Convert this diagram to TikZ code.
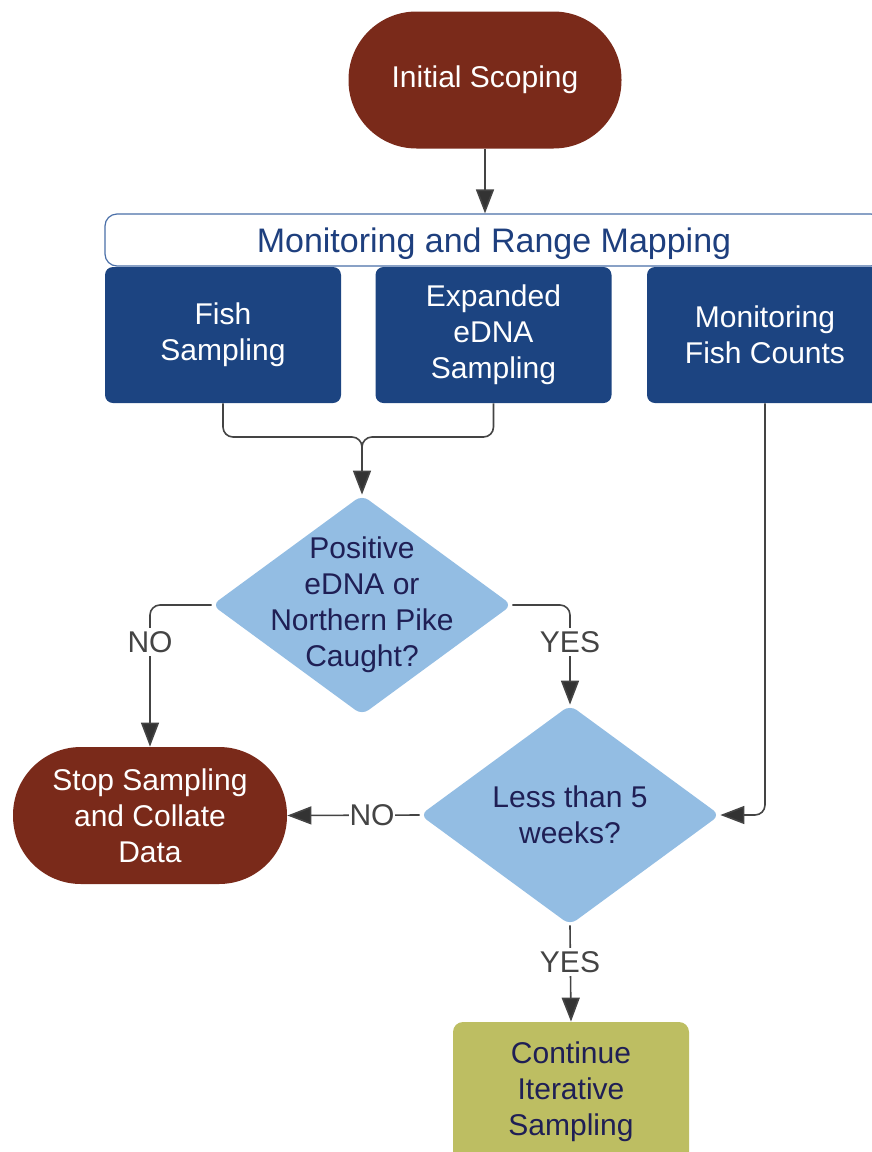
\documentclass[tikz,border=0pt]{standalone}
\usepackage{fontspec}
\setmainfont{Liberation Sans}
\usetikzlibrary{shapes.geometric,arrows.meta}
\definecolor{dred}{HTML}{7A2A1A}
\definecolor{navy}{HTML}{1C4481}
\definecolor{hdrtext}{HTML}{1E3F7E}
\definecolor{hdrline}{HTML}{4A6FA8}
\definecolor{lblue}{HTML}{93BDE3}
\definecolor{olive}{HTML}{BDBE62}
\definecolor{dtxt}{HTML}{1F1F55}
\definecolor{lineclr}{HTML}{444444}
\definecolor{tipclr}{HTML}{333333}
\begin{document}
\begin{tikzpicture}[x=0.5pt,y=-0.5pt,
  txt/.style={font=\fontsize{15pt}{18pt}\selectfont, align=center},
  term/.style={txt, fill=dred, text=white, minimum width=136.5pt, minimum height=68.5pt, rounded corners=34pt, inner sep=0pt},
  header/.style={draw=hdrline, line width=0.6pt, fill=white, minimum width=389pt, minimum height=26pt, rounded corners=6pt, inner sep=0pt},
  hdrlabel/.style={text=hdrtext, font=\fontsize{17pt}{20pt}\selectfont, inner sep=0pt},
  bbox/.style={txt, fill=navy, text=white, minimum width=118pt, minimum height=68pt, rounded corners=4pt, inner sep=0pt},
  dia/.style={diamond, fill=lblue, minimum width=150pt, minimum height=110pt, inner sep=0pt, rounded corners=4pt},
  dtext/.style={txt, text=dtxt},
  cont/.style={txt, fill=olive, text=dtxt, minimum width=118pt, minimum height=70pt, rounded corners=5pt, inner sep=0pt},
  conn/.style={draw=lineclr, line width=0.8pt},
  arr/.style={-{Triangle[length=12pt,width=9pt,fill=tipclr]}},
  lbl/.style={txt, fill=white, text=lineclr, inner sep=1.5pt}
]
\useasboundingbox (0,0) rectangle (872,1152);
\clip (0,0) rectangle (872,1152);

\node[term] (init) at (485,80) {Initial Scoping};
\node[header] (hdr) at (494,240) {};
\node[hdrlabel] (hdrt) at (494,244) {Monitoring and Range Mapping};
\node[bbox] (fish) at (223,335) {Fish\\Sampling};
\node[bbox] (edna) at (493.5,335) {Expanded\\eDNA\\Sampling};
\node[bbox] (mfc) at (765,335) {Monitoring\\Fish Counts};
\node[dia] (d1) at (362,605) {};
\node[dtext] (d1t) at (d1) {Positive\\eDNA or\\Northern Pike\\Caught?};
\node[dia] (d2) at (570,815) {};
\node[dtext] (d2t) at (d2) {Less than 5\\weeks?};
\node[term, minimum width=137pt] (stop) at (150,815.5) {Stop Sampling\\and Collate\\Data};
\node[cont] (cont) at (571,1092) {Continue\\Iterative\\Sampling};

\coordinate (m) at (362,437);

\draw[conn,arr] (init.south) -- (init.south |- hdr.north);
\draw[conn,arr,rounded corners=5pt] (fish.south) |- (m) -- (d1.north);
\draw[conn,rounded corners=5pt] (edna.south) |- (m) -- ++(0,20);
\draw[conn,arr,rounded corners=5pt] (d1.west) -| (stop.north);
\draw[conn,arr,rounded corners=5pt] (d1.east) -| (d2.north);
\draw[conn,arr] (d2.west) -- (stop.east);
\draw[conn,arr,rounded corners=5pt] (mfc.south) |- (d2.east);
\draw[conn,arr] (d2.south) -- (cont.north);

\node[lbl] (no1) at (150,642) {NO};
\node[lbl] (yes1) at (570,642) {YES};
\node[lbl, inner xsep=0.3pt] (no2) at (372,815) {NO};
\node[lbl] (yes2) at (570,962) {YES};
\end{tikzpicture}
\end{document}
